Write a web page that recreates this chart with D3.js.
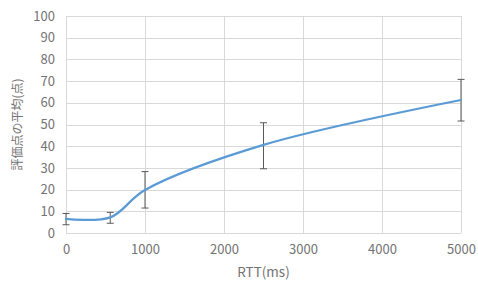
<!DOCTYPE html>
<html lang="ja">
<head>
<meta charset="UTF-8">
<title>RTT vs score</title>
<script src="https://d3js.org/d3.v7.min.js"></script>
<style>
  body { margin: 0; background: #fff; }
  svg { display: block; }
  .tick text { font-family: "Noto Sans CJK JP", "Noto Sans", sans-serif; font-size: 13px; fill: #737373; }
  .grid line { stroke: #d9d9d9; stroke-width: 1; }
  .axis-title { font-family: "Noto Sans CJK JP", "Noto Sans", sans-serif; fill: #737373; }
</style>
</head>
<body>
<svg width="478" height="282"></svg>
<script>
// data
const rtt = [0, 560, 1000, 2500, 5000];
const meanScore = [6.5, 7.2, 19.8, 40.6, 61.3];
const errHigh = [9.0, 9.5, 28.3, 50.8, 70.8];
const errLow = [3.8, 4.5, 11.5, 29.6, 51.6];
const xTicks = [0, 1000, 2000, 3000, 4000, 5000];
const yTicks = [0, 10, 20, 30, 40, 50, 60, 70, 80, 90, 100];

const svg = d3.select("svg");
const margin = {top: 16, right: 17, bottom: 49, left: 66};
const width = 478 - margin.left - margin.right;
const height = 282 - margin.top - margin.bottom;

const x = d3.scaleLinear().domain([0, 5000]).range([0, width]);
const y = d3.scaleLinear().domain([0, 100]).range([height, 0]);

const g = svg.append("g").attr("transform", `translate(${margin.left},${margin.top})`);

// gridlines
g.append("g").attr("class", "grid")
  .selectAll("line").data(yTicks).join("line")
  .attr("x1", 0).attr("x2", width)
  .attr("y1", d => Math.round(y(d)) + 0.5).attr("y2", d => Math.round(y(d)) + 0.5);
g.append("g").attr("class", "grid")
  .selectAll("line").data(xTicks).join("line")
  .attr("y1", 0).attr("y2", height)
  .attr("x1", d => Math.round(x(d)) + 0.5).attr("x2", d => Math.round(x(d)) + 0.5);

// axes (labels only)
const xAxis = g.append("g").attr("transform", `translate(0,${height})`)
  .call(d3.axisBottom(x).tickValues(xTicks).tickFormat(d3.format("d")).tickSize(0).tickPadding(12));
xAxis.select(".domain").remove();

const yAxis = g.append("g")
  .call(d3.axisLeft(y).tickValues(yTicks).tickFormat(d3.format("d")).tickSize(0).tickPadding(11));
yAxis.select(".domain").remove();

// error bars
const eb = g.append("g").selectAll("g").data(rtt).join("g");
eb.append("line")
  .attr("x1", d => x(d)).attr("x2", d => x(d))
  .attr("y1", (d, i) => y(errHigh[i])).attr("y2", (d, i) => y(errLow[i]))
  .attr("stroke", "#595959").attr("stroke-width", 1);
eb.append("line")
  .attr("x1", d => x(d) - 3.5).attr("x2", d => x(d) + 3.5)
  .attr("y1", (d, i) => y(errHigh[i])).attr("y2", (d, i) => y(errHigh[i]))
  .attr("stroke", "#595959").attr("stroke-width", 1);
eb.append("line")
  .attr("x1", d => x(d) - 3.5).attr("x2", d => x(d) + 3.5)
  .attr("y1", (d, i) => y(errLow[i])).attr("y2", (d, i) => y(errLow[i]))
  .attr("stroke", "#595959").attr("stroke-width", 1);

// smoothed line
const line = d3.line()
  .x((d, i) => x(rtt[i]))
  .y(d => y(d))
  .curve(d3.curveCatmullRom.alpha(0.5));
g.append("path")
  .datum(meanScore)
  .attr("fill", "none")
  .attr("stroke", "#5b9bd5")
  .attr("stroke-width", 2.25)
  .attr("stroke-linecap", "round")
  .attr("d", line);

// axis titles
svg.append("text").attr("class", "axis-title")
  .attr("x", margin.left + width / 2).attr("y", 277)
  .attr("text-anchor", "middle")
  .style("font-size", "13.5px")
  .text("RTT(ms)");
svg.append("text").attr("class", "axis-title")
  .attr("transform", `translate(22,${margin.top + height / 2}) rotate(-90)`)
  .attr("text-anchor", "middle")
  .style("font-size", "12px")
  .text("評価点の平均(点)");
</script>
</body>
</html>
